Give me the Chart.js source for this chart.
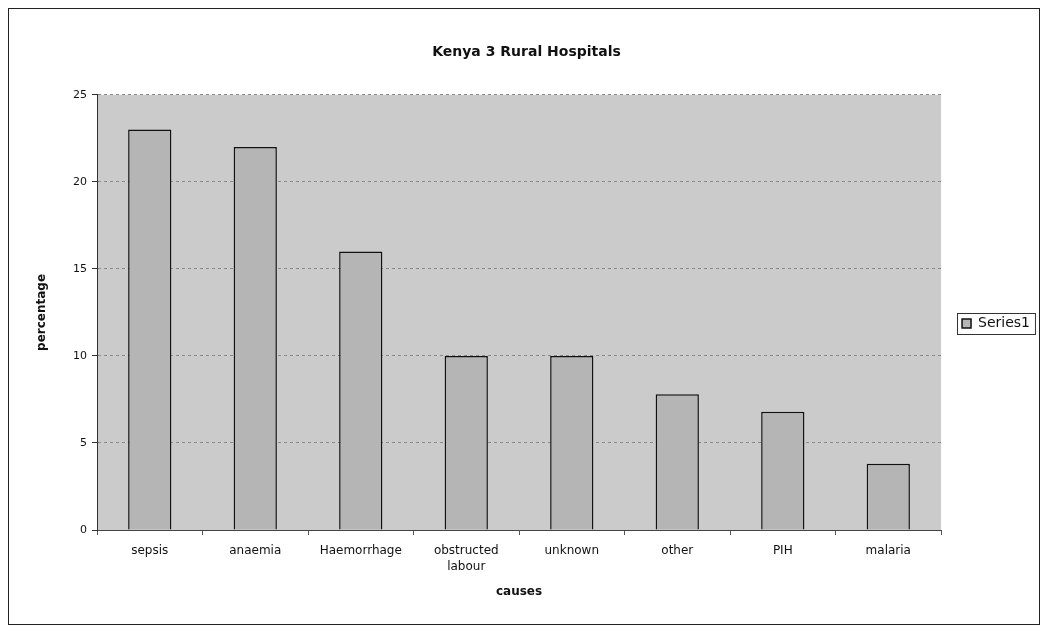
<!DOCTYPE html>
<html><head><meta charset="utf-8">
<script src="https://cdn.jsdelivr.net/npm/chart.js@4"></script>
<style>
html,body{margin:0;padding:0;background:#fff;}
#frame{position:absolute;left:8px;top:8px;width:1030px;height:615px;border:1px solid #222;background:#fff;}
canvas{display:block;}
</style></head><body>
<div id="frame"><canvas id="c" width="1030" height="615"></canvas></div>
<script>
const categories = [["sepsis"],["anaemia"],["Haemorrhage"],["obstructed","labour"],["unknown"],["other"],["PIH"],["malaria"]];
const series1 = [23, 22, 16, 10, 10, 7.8, 6.8, 3.8];
const yTicks = [0, 5, 10, 15, 20, 25];
const FONT = "'DejaVu Sans', 'Liberation Sans', Arial, sans-serif";

const plotBg = {
  id: 'plotBg',
  beforeDraw(chart) {
    const {ctx, chartArea: a} = chart;
    ctx.save();
    ctx.fillStyle = '#cbcbcb';
    ctx.fillRect(a.left, a.top, a.right - a.left, a.bottom - a.top);
    ctx.restore();
  }
};
const legendBox = {
  id: 'legendBox',
  afterDraw(chart) {
    const l = chart.legend;
    if (!l || !l.legendHitBoxes || !l.legendHitBoxes.length) return;
    const h = l.legendHitBoxes[0];
    const ctx = chart.ctx;
    ctx.save();
    ctx.strokeStyle = '#333';
    ctx.lineWidth = 1;
    ctx.strokeRect(Math.round(h.left) - 4.5, Math.round(h.top) - 3.5, h.width + 10, h.height + 7);
    ctx.restore();
  }
};

new Chart(document.getElementById('c'), {
  type: 'bar',
  data: {
    labels: categories,
    datasets: [{
      label: 'Series1',
      data: series1,
      backgroundColor: '#b5b5b5',
      borderColor: '#111',
      borderWidth: 1.5,
      categoryPercentage: 1,
      barPercentage: 0.41
    }]
  },
  options: {
    responsive: false,
    animation: false,
    layout: {padding: {left: 4, right: -1, top: 35, bottom: 21}},
    plugins: {
      title: {display: true, text: 'Kenya 3 Rural Hospitals', color: '#111',
        font: {family: FONT, size: 14, weight: 'bold'}, padding: {top: 0, bottom: 34}},
      legend: {display: true, position: 'right', align: 'center',
        labels: {boxWidth: 9, boxHeight: 9, color: '#111', padding: 21,
          font: {family: FONT, size: 14}}},
      tooltip: {enabled: false}
    },
    scales: {
      x: {
        grid: {display: true, drawOnChartArea: false, drawTicks: true, tickLength: 5, color: '#555', offset: true},
        border: {display: true, color: '#444', width: 1},
        ticks: {color: '#111', font: {family: FONT, size: 12, lineHeight: 1.4}, maxRotation: 0, autoSkip: false, padding: 7},
        title: {display: true, text: 'causes', color: '#111', font: {family: FONT, size: 12, weight: 'bold'}, padding: {top: 2, bottom: 4}}
      },
      y: {
        min: 0, max: 25,
        afterBuildTicks(scale) { scale.ticks = yTicks.map(v => ({value: v})); },
        afterFit(scale) { scale.width = 84; },
        grid: {display: true, color: '#8a8a8a', tickLength: 5, tickColor: '#333', drawOnChartArea: true},
        border: {display: true, color: '#333', width: 1, dash: [3, 3]},
        ticks: {color: '#111', font: {family: FONT, size: 11}, padding: 5},
        title: {display: true, text: 'percentage', color: '#111', font: {family: FONT, size: 12, weight: 'bold'}, padding: {top: 22, bottom: 6}}
      }
    }
  },
  plugins: [plotBg, legendBox]
});
</script>
</body></html>
